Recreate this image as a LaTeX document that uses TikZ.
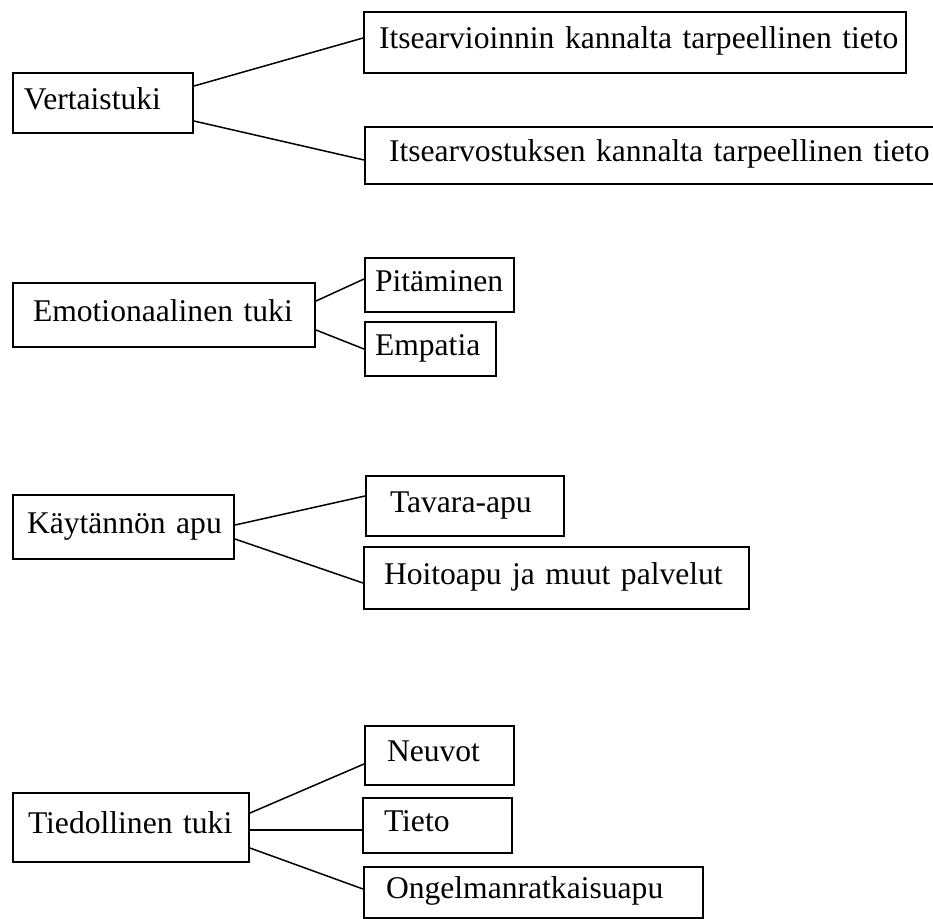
\documentclass[tikz,border=0pt]{standalone}
\usepackage{fontspec}
\setmainfont{Liberation Serif}
\usetikzlibrary{calc}

\tikzset{
  box/.style={draw, line width=1pt, anchor=north west, inner ysep=0pt,
    text height=0.6em, text depth=0pt, font=\fontsize{15.8}{19}\selectfont,
    execute at begin node=\hbox\bgroup, execute at end node=\egroup},
  link/.style={line width=0.75pt}
}

\begin{document}
\begin{tikzpicture}[x=0.5pt, y=-0.5pt]
        \useasboundingbox (0,0) rectangle (933,918);
        \clip (0,0) rectangle (933,918);
        % Vertaistuki
        \node[box, text width=79pt,  inner xsep=5.5pt, minimum height=30pt]   (vert) at (12,72)   {Vertaistuki};
        \node[box, text width=256pt, inner xsep=7.5pt, minimum height=30.5pt] (itsA) at (363,11)  {Itsearvioinnin kannalta tarpeellinen tieto};
        \node[box, text width=276pt, inner xsep=12pt,  minimum height=28.5pt] (itsB) at (364,126) {Itsearvostuksen kannalta tarpeellinen tieto};
        \draw[link] ($(vert.east)+(0,-17)$) -- ($(itsA.west)+(0,-4.5)$);
        \draw[link] ($(vert.east)+(0,18)$)  -- ($(itsB.west)+(0,4.5)$);
        % Emotionaalinen tuki
        \node[box, text width=131pt,  inner xsep=10pt, minimum height=32pt] (emo) at (12,282)  {Emotionaalinen tuki};
        \node[box, text width=64.5pt, inner xsep=5pt,  minimum height=27pt] (pit) at (364,257) {Pitäminen};
        \node[box, text width=55.5pt, inner xsep=5pt,  minimum height=27pt] (emp) at (364,321) {Empatia};
        \draw[link] ($(emo.east)+(0,-14)$) -- ($(pit.west)+(0,-6)$);
        \draw[link] ($(emo.east)+(0,15)$)  -- (emp.west);
        % Käytännön apu
        \node[box, text width=96.5pt,  inner xsep=7pt,  minimum height=32pt] (kay) at (12,494)  {Käytännön apu};
        \node[box, text width=75pt,    inner xsep=12pt, minimum height=30pt] (tav) at (365,475) {Tavara-apu};
        \node[box, text width=172.5pt, inner xsep=10pt, minimum height=31pt] (hoi) at (363,546) {Hoitoapu ja muut palvelut};
        \draw[link] ($(kay.east)+(0,-2)$) -- ($(tav.west)+(0,-10)$);
        \draw[link] ($(kay.east)+(0,12)$) -- ($(hoi.west)+(0,5)$);
        % Tiedollinen tuki
        \node[box, text width=103pt,   inner xsep=7.5pt,  minimum height=34.5pt] (tie) at (12,792)  {Tiedollinen tuki};
        \node[box, text width=52.5pt,  inner xsep=11pt,   minimum height=29.5pt] (neu) at (364,725) {Neuvot};
        \node[box, text width=53.5pt,  inner xsep=10.5pt, minimum height=27.5pt] (tto) at (362,797) {Tieto};
        \node[box, text width=147.5pt, inner xsep=11pt,   minimum height=25.5pt] (ong) at (363,866) {Ongelmanratkaisuapu};
        \draw[link] ($(tie.east)+(0,-14.5)$) -- ($(neu.west)+(0,8.5)$);
        \draw[link] ($(tie.east)+(0,2.5)$)   -- ($(tto.west)+(0,4.5)$);
        \draw[link] ($(tie.east)+(0,20.5)$)  -- ($(ong.west)+(0,-3.5)$);
\end{tikzpicture}
\end{document}
